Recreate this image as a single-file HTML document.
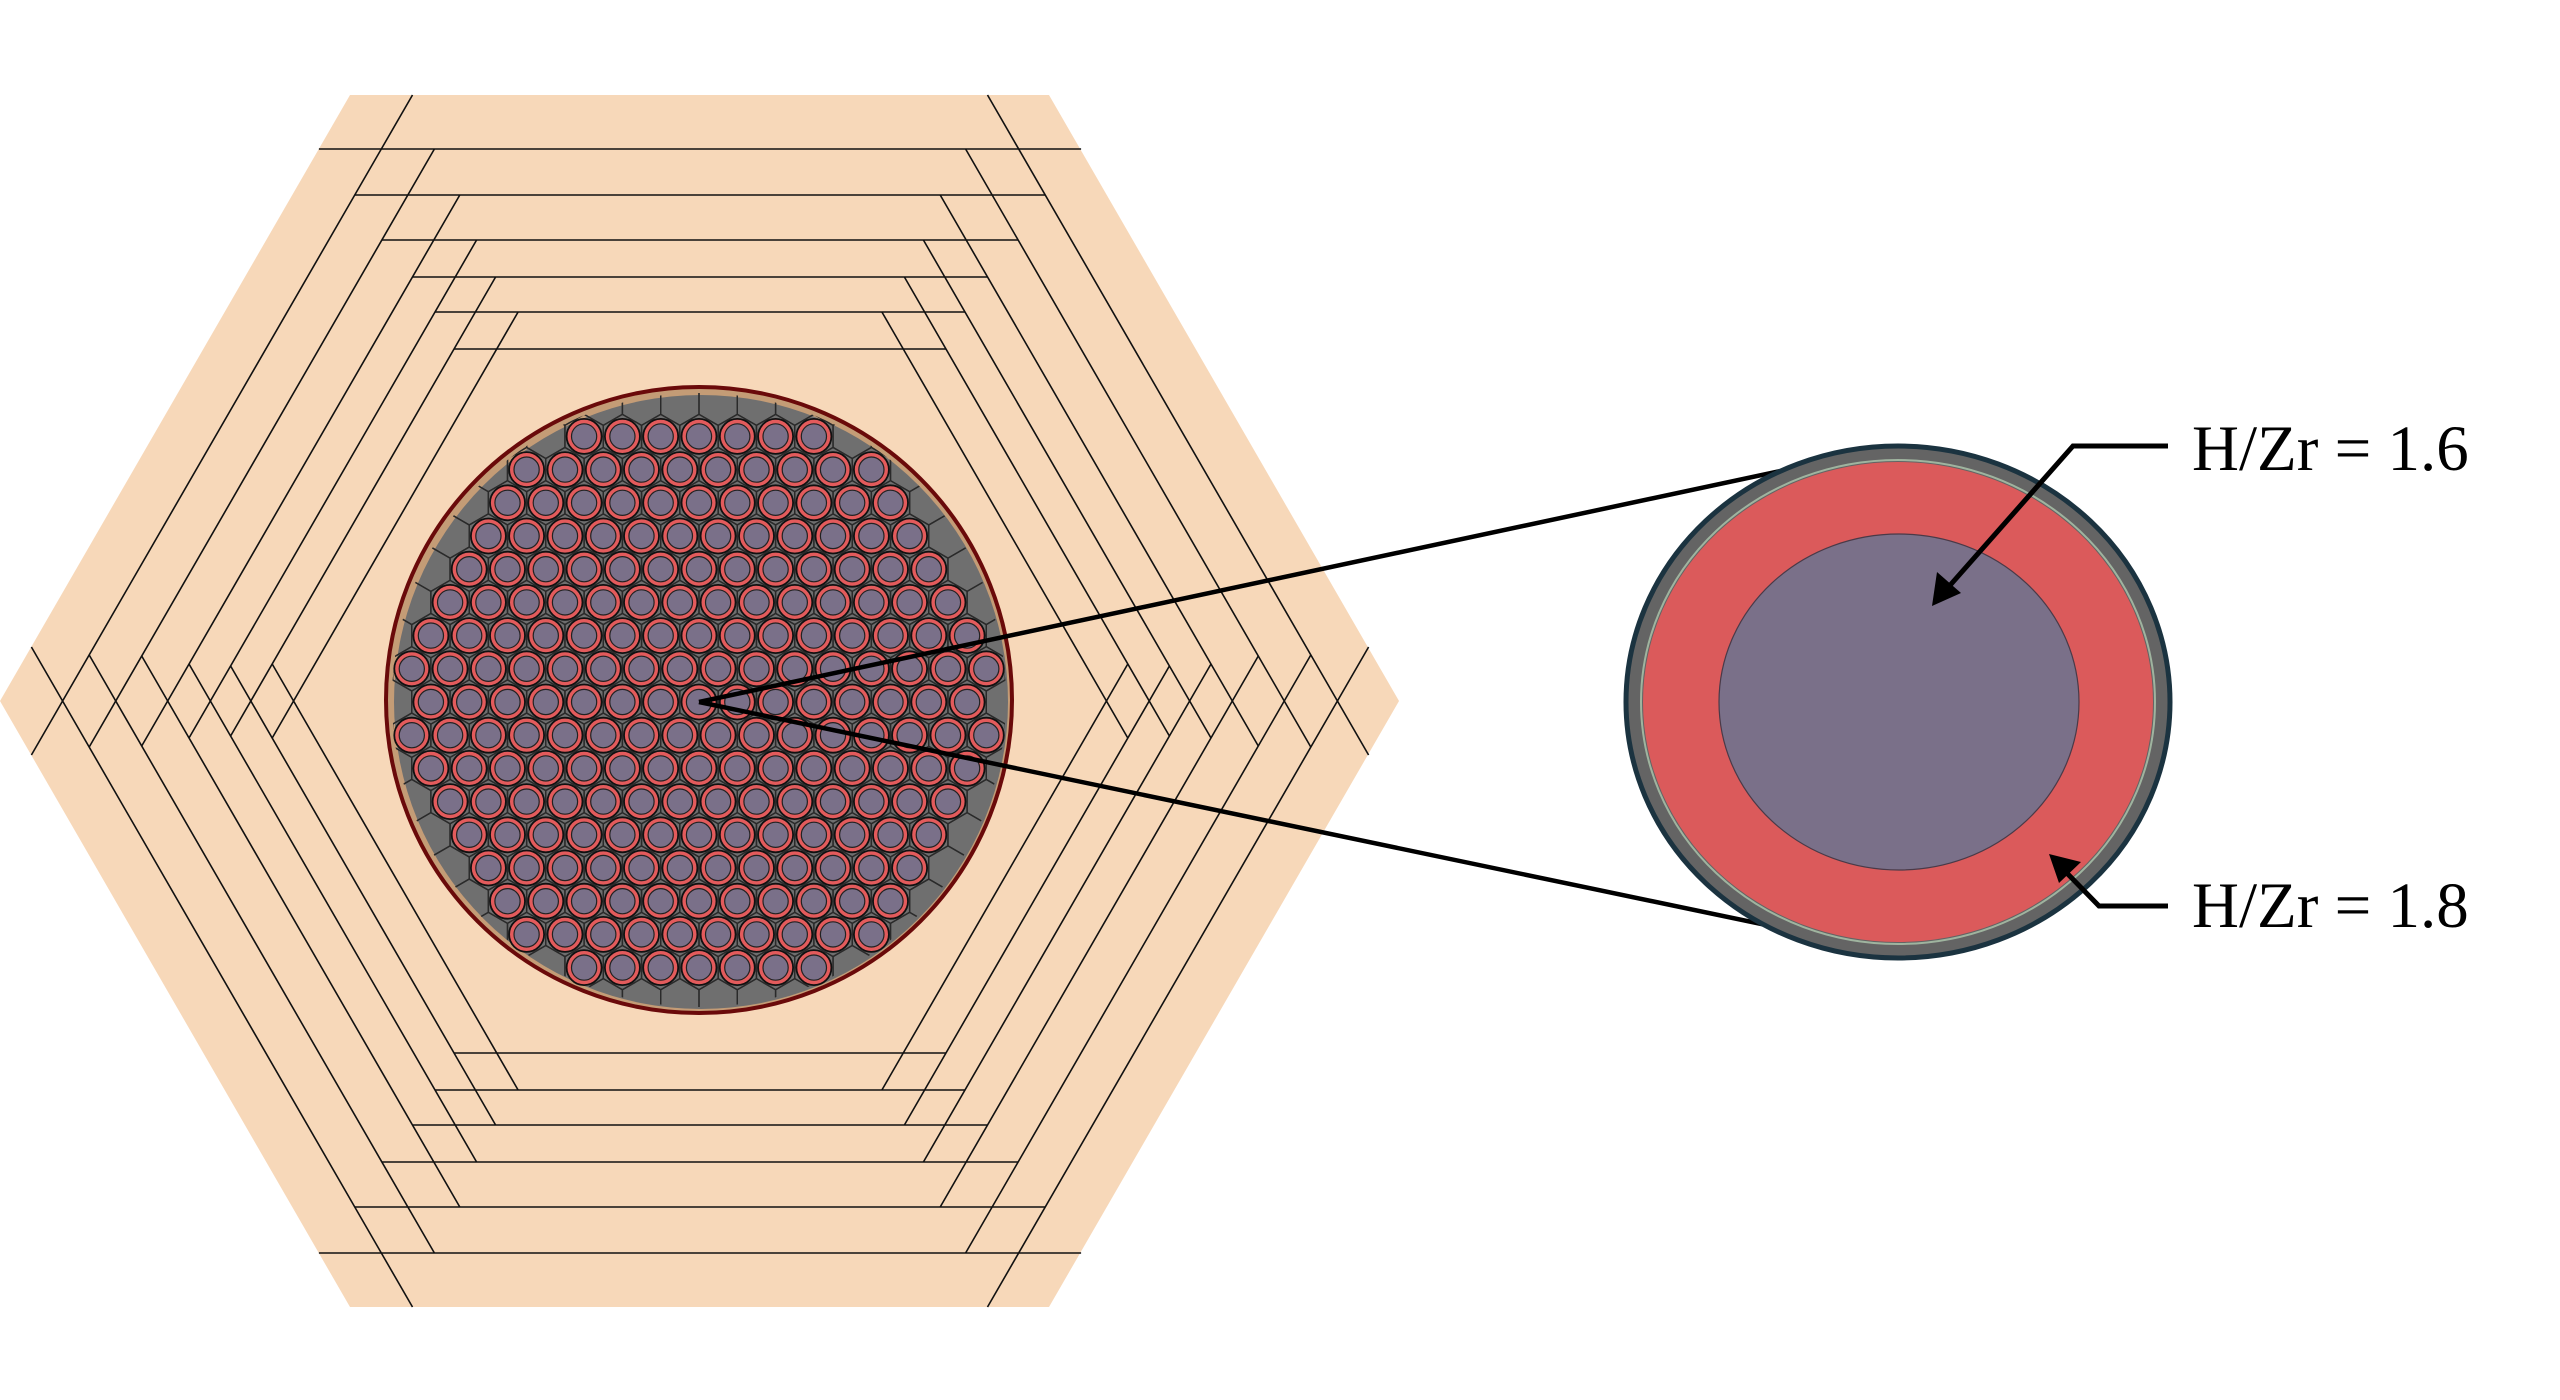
<!DOCTYPE html>
<html><head><meta charset="utf-8"><style>
html,body{margin:0;padding:0;background:#fff;}
svg{display:block;}
</style></head><body>
<svg id="s" width="2560" height="1400" viewBox="0 0 2560 1400" xmlns="http://www.w3.org/2000/svg">
<defs>
<clipPath id="cc"><circle cx="699" cy="700" r="307"/></clipPath>
</defs>
<polygon points="0,701 350,95 1049,95 1399,701 1049,1307 350,1307" fill="#f7d8b9"/>
<g id="rings" stroke="#111" stroke-width="1.6" fill="none"></g>
<circle cx="699" cy="700" r="313" fill="#c49c76"/>
<circle cx="701" cy="702" r="307" fill="#6f6f6f"/>
<g id="cells" clip-path="url(#cc)" stroke="#2a2a2a" stroke-width="1.4" fill="none"></g>
<g id="pins"></g>
<circle cx="699" cy="700" r="313" fill="none" stroke="#6a0a0a" stroke-width="4"/>
<line x1="699" y1="702" x2="1790" y2="469" stroke="#000" stroke-width="4.5"/>
<line x1="699" y1="702" x2="1790" y2="930" stroke="#000" stroke-width="4.5"/>
<ellipse cx="1898" cy="702" rx="272" ry="256" fill="#646464" stroke="#1b3340" stroke-width="5"/>
<ellipse cx="1898" cy="702" rx="257" ry="242" fill="none" stroke="#9fb49f" stroke-width="2"/>
<ellipse cx="1898" cy="702" rx="255" ry="240" fill="#db5a5b"/>
<ellipse cx="1899" cy="702" rx="180" ry="168" fill="#7a7089" stroke="#4a3a48" stroke-width="1.2"/>
<polyline points="2168,446 2073,446 1945,591" fill="none" stroke="#000" stroke-width="5"/>
<polygon points="1932,606 1937,572 1961,593" fill="#000"/>
<polyline points="2168,906 2099,906 2060,866" fill="none" stroke="#000" stroke-width="5"/>
<polygon points="2049,854 2081,862 2059,883" fill="#000"/>
<text x="2192" y="470" font-size="65" fill="#000" font-family="'Liberation Serif', 'Times New Roman', serif" style="font-family:'Liberation Serif','Times New Roman',serif">H/Zr = 1.6</text>
<text x="2192" y="927" font-size="65" fill="#000" font-family="'Liberation Serif', 'Times New Roman', serif" style="font-family:'Liberation Serif','Times New Roman',serif">H/Zr = 1.8</text>
</svg>
<script>
(function(){
var NS="http://www.w3.org/2000/svg";
var cx=700,cy=701;
var a=[606,552,506,461,424,389,352];
var rings=document.getElementById('rings');
function n(j){var t=(-90+60*j)*Math.PI/180;return [Math.cos(t),Math.sin(t)];}
function inter(n1,d1,n2,d2){var det=n1[0]*n2[1]-n1[1]*n2[0];var x=(d1*n2[1]-n1[1]*d2)/det;var y=(n1[0]*d2-d1*n2[0])/det;return [cx+x,cy+y];}
for(var k=1;k<a.length;k++){
 for(var j=0;j<6;j++){
  var nj=n(j),np=n(j-1),nn=n(j+1);
  var p1=inter(nj,a[k],np,a[k-1]),p2=inter(nj,a[k],nn,a[k-1]);
  var l=document.createElementNS(NS,'line');
  l.setAttribute('x1',p1[0].toFixed(1));l.setAttribute('y1',p1[1].toFixed(1));
  l.setAttribute('x2',p2[0].toFixed(1));l.setAttribute('y2',p2[1].toFixed(1));
  rings.appendChild(l);
 }
}
var pcx=699,pcy=702,p=38.3,h=33.2;
var cells=document.getElementById('cells'),pins=document.getElementById('pins');
var R=22.1;
for(var r=-10;r<=10;r++){
 var off=(Math.abs(r)%2)?0.5:0;
 for(var i=-10;i<=10;i++){
  var x=pcx+(i+off)*p,y=pcy+r*h;
  var d=Math.hypot(x-pcx,y-pcy);
  if(d>340)continue;
  var pts=[];
  for(var v=0;v<6;v++){var t=(-90+60*v)*Math.PI/180;pts.push((x+R*Math.cos(t)).toFixed(1)+','+(y+R*Math.sin(t)).toFixed(1));}
  var pg=document.createElementNS(NS,'polygon');pg.setAttribute('points',pts.join(' '));cells.appendChild(pg);
  if(d<=297){
   var c1=document.createElementNS(NS,'circle');c1.setAttribute('cx',x.toFixed(1));c1.setAttribute('cy',y.toFixed(1));c1.setAttribute('r','17.5');
   c1.setAttribute('fill','#e35b5c');c1.setAttribute('stroke','#111');c1.setAttribute('stroke-width','1.8');pins.appendChild(c1);
   var c2=document.createElementNS(NS,'circle');c2.setAttribute('cx',x.toFixed(1));c2.setAttribute('cy',y.toFixed(1));c2.setAttribute('r','12.6');
   c2.setAttribute('fill','#7a7089');c2.setAttribute('stroke','#222');c2.setAttribute('stroke-width','1.2');pins.appendChild(c2);
  }
 }
}
})();
</script>
</body></html>
